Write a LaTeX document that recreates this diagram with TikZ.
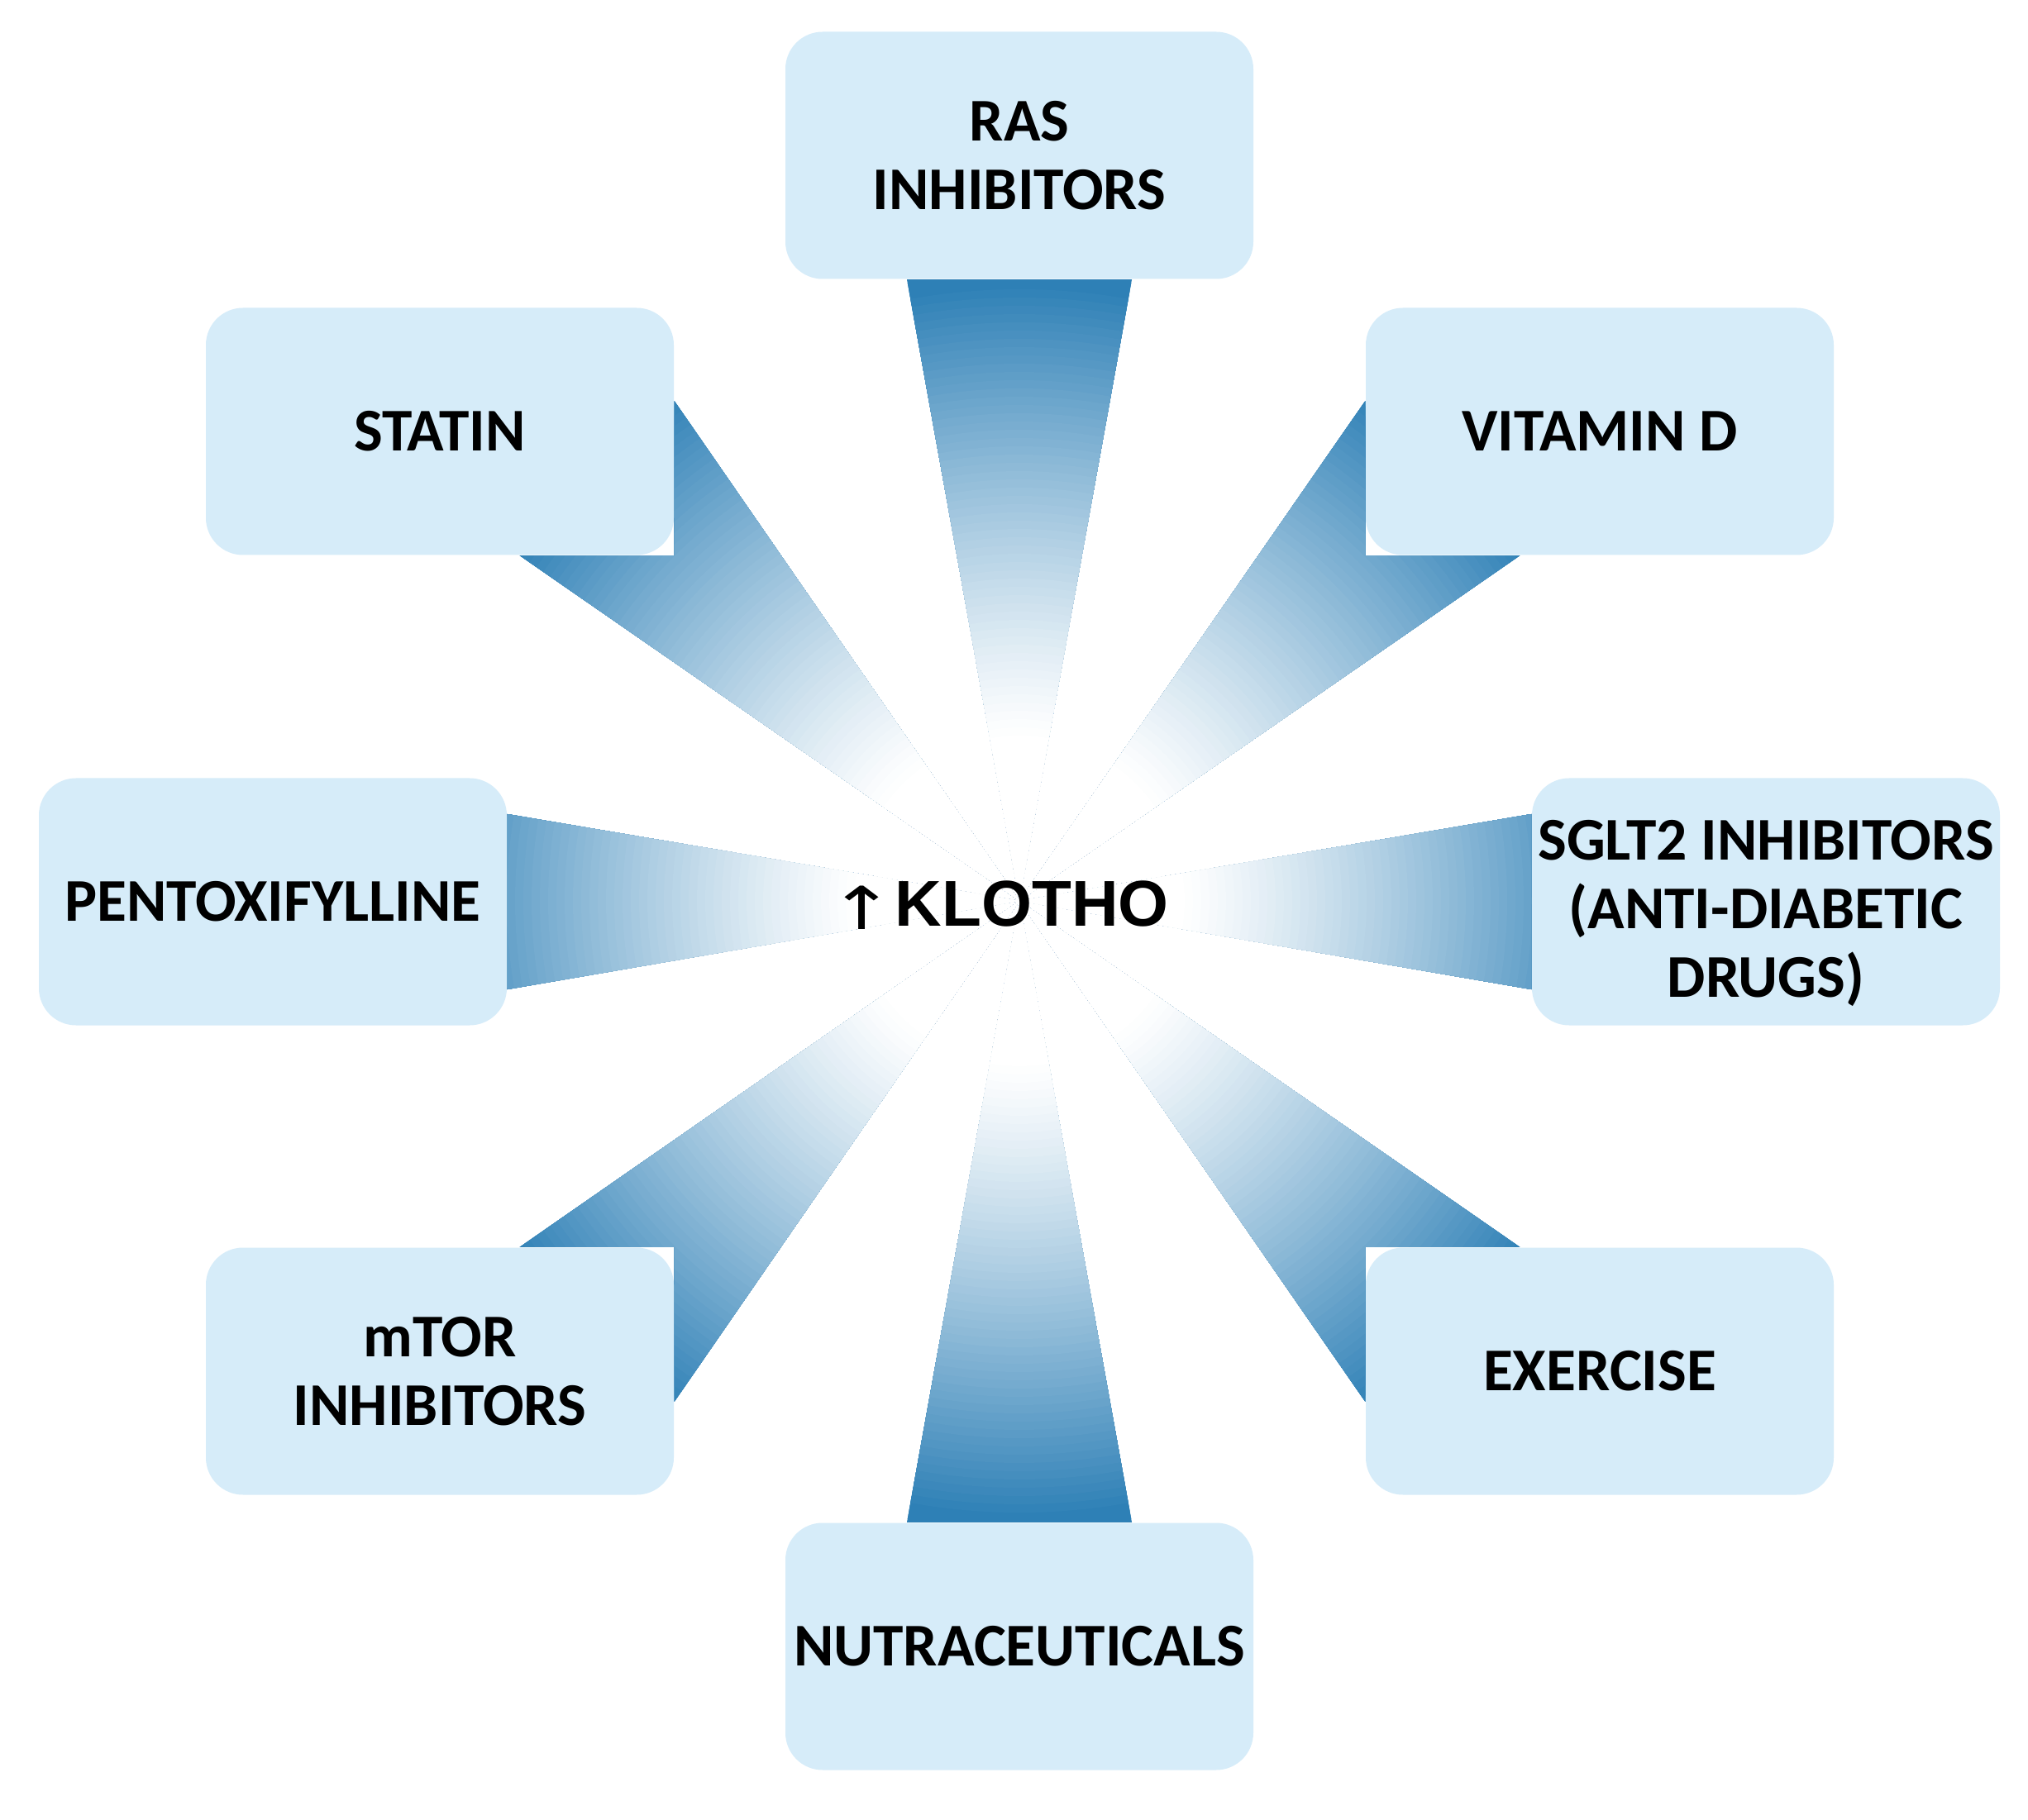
\documentclass[tikz,border=0pt]{standalone}
\usepackage{fontspec}
\usepackage{graphicx}
\setmainfont{Carlito}
\newfontfamily\arrfont{DejaVu Sans}
\newfontfamily\klfont{Liberation Sans}
\usetikzlibrary{calc}
\definecolor{boxblue}{HTML}{D6ECF9}
\definecolor{beamblue}{HTML}{2E80B6}
\tikzset{
  slot/.style={rounded corners=0.45cm, minimum width=5.66cm, minimum height=2.99cm, inner sep=0pt},
  item/.style={slot, fill=boxblue, align=center, font=\bfseries\fontsize{20.9}{23.5}\selectfont},
  itemtext/.style={inner sep=0pt, align=center, font=\bfseries\fontsize{20.9}{23.5}\selectfont}
}
\begin{document}
\begin{tikzpicture}
\useasboundingbox[fill=white] (0,0) rectangle (24.53,22.01);
\coordinate (c) at (12.33,11.11);
% box positions
\node[slot] (ras)  at (12.33,20.13) {};
\node[slot] (stat) at (5.32,16.79) {};
\node[slot] (vitd) at (19.35,16.79) {};
\node[slot] (pent) at (3.30,11.10) {};
\node[slot] (sglt) at (21.36,11.10) {};
\node[slot] (mtor) at (5.32,5.42) {};
\node[slot] (exer) at (19.35,5.42) {};
\node[slot] (nutr) at (12.33,2.09) {};
% beams: shaded from the box (blue) to the centre (white)
\begin{scope}
\clip (c) -- ($(ras.south)+(-1.36,0)$) -- ($(ras.south)+(1.36,0)$) -- cycle
      (c) -- ($(nutr.north)+(-1.36,0)$) -- ($(nutr.north)+(1.36,0)$) -- cycle
      (c) -- ($(pent.east)+(0,1.06)$) -- ($(pent.east)+(0,-1.06)$) -- cycle
      (c) -- ($(sglt.west)+(0,1.06)$) -- ($(sglt.west)+(0,-1.06)$) -- cycle
      (c) -- ($(stat.south east)+(0,1.87)$) -- (stat.south east) -- ($(stat.south east)+(-1.87,0)$) -- cycle
      (c) -- ($(vitd.south west)+(0,1.87)$) -- (vitd.south west) -- ($(vitd.south west)+(1.87,0)$) -- cycle
      (c) -- ($(mtor.north east)+(0,-1.87)$) -- (mtor.north east) -- ($(mtor.north east)+(-1.87,0)$) -- cycle
      (c) -- ($(exer.north west)+(0,-1.87)$) -- (exer.north west) -- ($(exer.north west)+(1.87,0)$) -- cycle;
\fill[beamblue] (c) circle (9);
\foreach \i in {0,...,60} {
  \pgfmathsetmacro\rr{7.6-0.1*\i}
  \pgfmathsetmacro\qq{max(0.0001,min(1,(\rr-2.0)/5.5))}
  \pgfmathsetmacro\pp{100*(\qq^1.2)}
  \fill[beamblue!\pp!white] (c) circle (\rr);
}
\end{scope}
% boxes
\node[item] at (ras)  {RAS\\INHIBITORS};
\node[item] at (stat) {STATIN};
\node[item] at (vitd) {VITAMIN D};
\node[item] at (pent) {PENTOXIFYLLINE};
\node[item] at (sglt) {};
\node[itemtext, yshift=-0.14cm] (sgltt) at (sglt) {SGLT2 INHIBITORS\\(ANTI-DIABETIC\\DRUGS)};
\node[item] at (mtor) {mTOR\\INHIBITORS};
\node[item] at (exer) {EXERCISE};
\node[item] at (nutr) {NUTRACEUTICALS};
% centre label
\node[anchor=base west, inner sep=0pt] (k) at (10.02,10.81)
  {{\arrfont\fontsize{17}{20}\selectfont\raisebox{-1.2pt}{\scalebox{1.6}[1.2]{↑}}}{\klfont\fontsize{22.3}{26}\selectfont\bfseries KLOTHO}};
\end{tikzpicture}
\end{document}
